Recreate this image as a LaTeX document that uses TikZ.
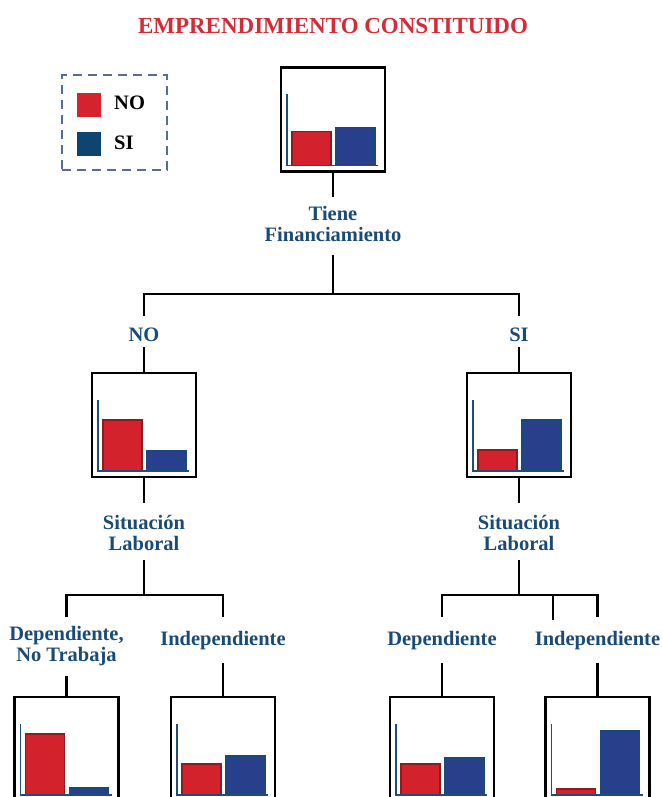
\documentclass[tikz,border=0pt]{standalone}
\usepackage{fontspec}
\setmainfont{Liberation Serif}
\usetikzlibrary{calc}
\definecolor{titlered}{HTML}{D52B36}
\definecolor{lblue}{HTML}{1A4B77}
\definecolor{barred}{HTML}{D3222C}
\definecolor{barredline}{HTML}{8E1B1E}
\definecolor{barblue}{HTML}{283F8C}
\definecolor{barblueline}{HTML}{18497A}
\definecolor{axisblue}{HTML}{1F4E7B}
\definecolor{legred}{HTML}{D4232C}
\definecolor{legblue}{HTML}{0F4470}
\definecolor{dashcol}{HTML}{596C93}
\tikzset{
  chartbox/.style={draw=black, line width=2.4pt, fill=white, minimum width=104pt, minimum height=104pt, inner sep=0pt},
  redbar/.style={fill=barred, draw=barredline, line width=1.1pt},
  bluebar/.style={fill=barblue, draw=barblueline, line width=1.1pt},
  axisline/.style={draw=axisblue, line width=1.6pt},
  lbl/.style={text=lblue, font=\fontsize{20.5}{21}\selectfont\bfseries, align=center, inner sep=0pt, anchor=base, text height=14pt, text depth=4pt},
  lbltwo/.style={lbl, text height=35pt},
  conn/.style={draw=black, line width=2.3pt},
  titlestyle/.style={text=titlered, font=\fontsize{23}{26}\selectfont\bfseries, inner sep=0pt},
  legbox/.style={draw=dashcol, line width=2.5pt, dash pattern=on 9pt off 6pt, minimum width=105pt, minimum height=95pt, inner sep=0pt},
  legsq/.style={minimum size=24pt, inner sep=0pt},
  legtext/.style={text=black, font=\fontsize{20.5}{21}\selectfont\bfseries, inner sep=0pt, anchor=west},
}
\newcommand\barchart[5]{%
  \node[chartbox] (#1) at (#2,#3) {};
  \draw[redbar] ($(#1.center)+(-41,46)$) rectangle ($(#1.center)+(-2,46-#4)$);
  \draw[bluebar] ($(#1.center)+(3,46)$) rectangle ($(#1.center)+(42,46-#5)$);
  \draw[axisline] ($(#1.center)+(-46,-25)$) -- ($(#1.center)+(-46,46)$) -- ($(#1.center)+(45,46)$);
}
\begin{document}
\begin{tikzpicture}[x=1pt,y=-1pt]
\useasboundingbox (0,0) rectangle (662,797);
\clip (0,0) rectangle (662,797);
% title
\node[titlestyle] (title) at (333,25.5) {EMPRENDIMIENTO CONSTITUIDO};
% legend
\node[legbox] (legend) at (114.5,122.5) {};
\node[legsq, fill=legred] (sqno) at (89,105) {};
\node[legsq, fill=legblue] (sqsi) at (89,144) {};
\node[legtext] (tno) at (114,102.5) {NO};
\node[legtext] (tsi) at (114,142.5) {SI};
% charts
\barchart{root}{333}{119.5}{34}{38}
\barchart{midL}{144}{425}{51}{20}
\barchart{midR}{519}{425}{21}{51}
\barchart{leafA}{66.5}{749}{61}{7}
\barchart{leafB}{223}{749}{31}{39}
\barchart{leafC}{442}{749}{31}{37}
\barchart{leafD}{597.5}{749}{6}{64}
% labels
\node[lbltwo] (tiene) at (333,241) {Tiene\\Financiamiento};
\node[lbl] (no) at (144,341) {NO};
\node[lbl] (si) at (519,341) {SI};
\node[lbltwo] (sitL) at (144,550) {Situación\\Laboral};
\node[lbltwo] (sitR) at (519,550) {Situación\\Laboral};
\node[lbltwo] (depL) at (66.5,661) {Dependiente,\\No Trabaja};
\node[lbl] (indL) at (223,645) {Independiente};
\node[lbl] (depR) at (442,645) {Dependiente};
\node[lbl] (indR) at (597.5,645) {Independiente};
% connectors
\coordinate (b1) at (333,294);
\coordinate (h2L) at (144,595);
\coordinate (h2R) at (519,595);
\coordinate (stub) at (553,620);
\draw[conn, shorten >=9pt] (root.south) -- (tiene.north);
\draw[conn, shorten <=10pt] (tiene.south) -- (b1);
\draw[conn, shorten <=11pt, shorten >=11pt] (no.north) -- (no.north |- b1) -- (si.north |- b1) -- (si.north);
\draw[conn, shorten <=2pt] (no.south) -- (midL.north);
\draw[conn, shorten <=2pt] (si.south) -- (midR.north);
\draw[conn, shorten >=12pt] (midL.south) -- (sitL.north);
\draw[conn, shorten >=12pt] (midR.south) -- (sitR.north);
\draw[conn, shorten <=6pt] (sitL.south) -- (h2L);
\draw[conn, shorten <=6pt] (sitR.south) -- (h2R);
\draw[conn, shorten <=9pt, shorten >=14pt] (depL.north) -- (depL.north |- h2L) -- (indL.north |- h2L) -- (indL.north);
\draw[conn, shorten <=14pt, shorten >=14pt] (depR.north) -- (depR.north |- h2R) -- (indR.north |- h2R) -- (indR.north);
\draw[conn] (stub |- h2R) -- (stub);
\draw[conn, shorten <=11pt] (depL.south) -- (leafA.north);
\draw[conn, shorten <=14pt] (indL.south) -- (leafB.north);
\draw[conn, shorten <=14pt] (depR.south) -- (leafC.north);
\draw[conn, shorten <=14pt] (indR.south) -- (leafD.north);
\end{tikzpicture}
\end{document}
